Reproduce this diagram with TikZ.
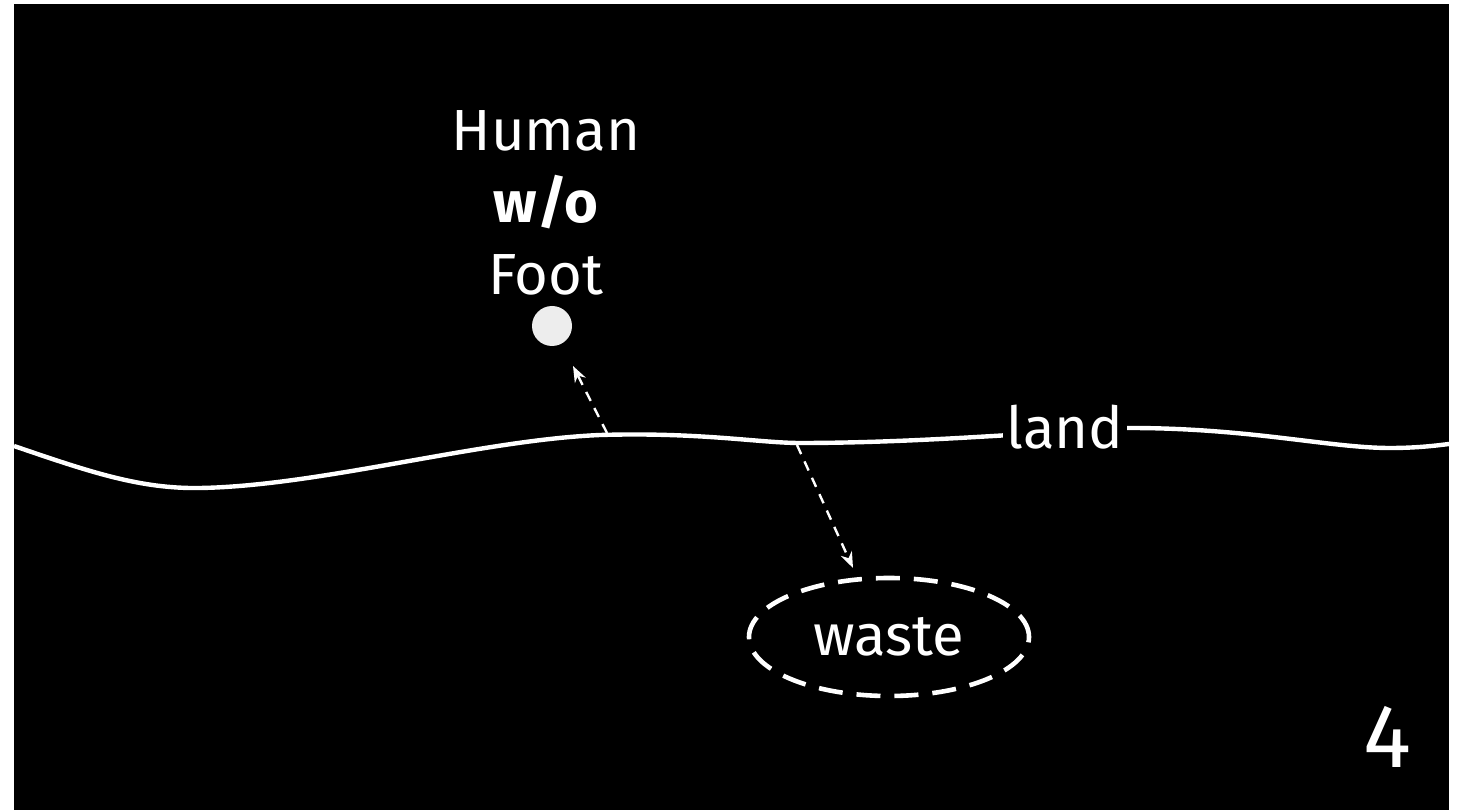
\documentclass[tikz,border=0pt]{standalone}
\usepackage{fontspec}
\setmainfont{Fira Sans}
\usetikzlibrary{arrows.meta,shapes.geometric}
\begin{document}
\begin{tikzpicture}[x=0.5pt,y=-0.5pt,
  lbl/.style={text=white,font=\fontsize{29pt}{36pt}\selectfont,inner sep=1pt},
  ground/.style={draw=white,line width=2.2pt},
  link/.style={draw=white,line width=1.2pt,dash pattern=on 5pt off 4pt,-{Stealth[length=8pt,width=6pt]}},
  pile/.style={ellipse,draw=white,line width=2.3pt,dash pattern=on 12pt off 7pt,minimum width=140pt,minimum height=59pt,text=white,font=\fontsize{29pt}{36pt}\selectfont}]
\useasboundingbox (0,0) rectangle (1472,812);
\fill[white] (0,0) rectangle (1472,812);
\fill[black] (14,4) rectangle (1449,810);
\draw[ground] (14,446) .. controls (90,472) and (140,489) .. (200,488)
  .. controls (320,486) and (480,440) .. (600,435)
  .. controls (700,432) and (760,443) .. (800,443)
  .. controls (880,443) and (960,438) .. (1010,435)
  .. controls (1060,432) and (1100,428) .. (1130,428)
  .. controls (1250,428) and (1330,448) .. (1390,448)
  .. controls (1420,448) and (1440,445) .. (1449,444);
\node[lbl,fill=black,inner xsep=2pt,inner ysep=0pt] (land) at (1065,427) {land};
\node[lbl,align=center] (human) at (546,203) {Human\\\textbf{w/o}\\Foot};
\node[circle,fill=white!93!black,minimum size=20pt,inner sep=0pt] (dot) at (552,326) {};
\node[pile] (waste) at (889,637) {waste};
\node[lbl,font=\fontsize{45pt}{48pt}\selectfont] (four) at (1387,737) {4};
\coordinate (g1) at (607,433);
\coordinate (d1) at (573,366);
\coordinate (g2) at (797,445);
\coordinate (w1) at (853,568);
\draw[link] (g1) -- (d1);
\draw[link] (g2) -- (w1);
\end{tikzpicture}
\end{document}
